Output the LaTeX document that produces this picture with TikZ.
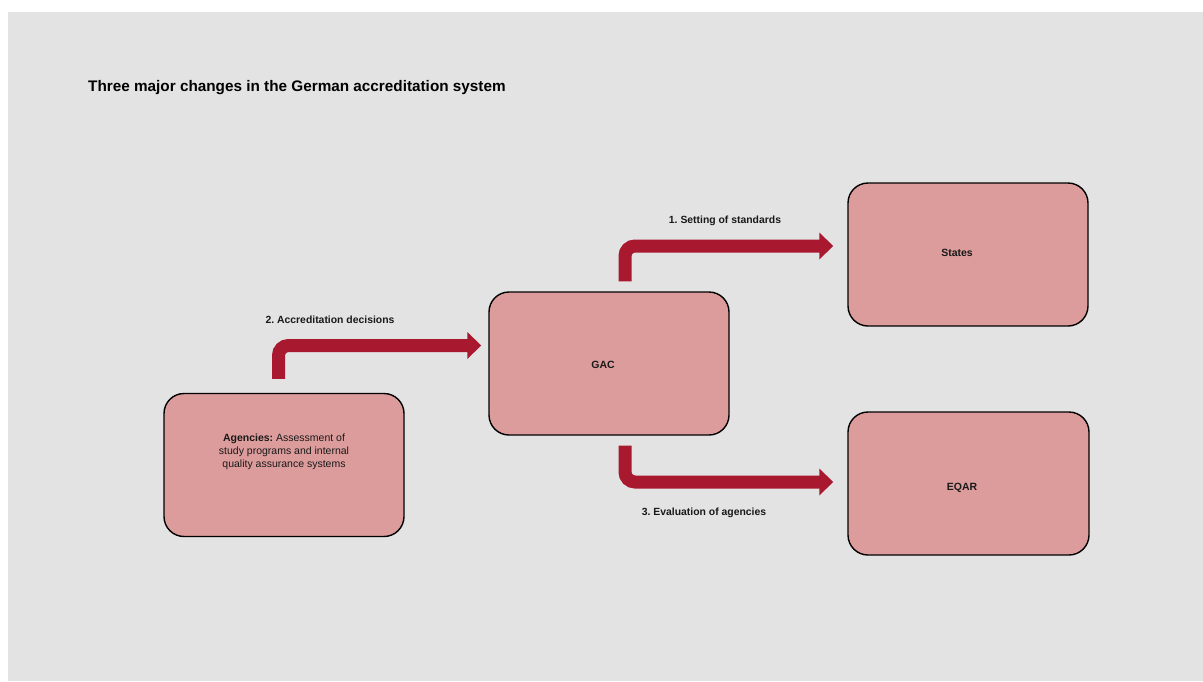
\documentclass[tikz,border=0pt]{standalone}
\usepackage{fontspec}
\setmainfont{Liberation Sans}
\usetikzlibrary{arrows.meta,calc}
\definecolor{bg}{HTML}{E3E3E3}
\definecolor{boxfill}{HTML}{DD9C9C}
\definecolor{arrowred}{HTML}{A8182E}
\frenchspacing
\begin{document}
\begin{tikzpicture}[x=1pt,y=-1pt,
  box/.style={draw=black, line width=1.4pt, fill=boxfill, rounded corners=20pt,
    minimum width=240pt, minimum height=143pt, inner sep=0pt},
  flow/.style={draw=arrowred, line width=13pt, rounded corners=10pt,
    -{Triangle[length=14pt,width=26pt]}},
  lbl/.style={font=\fontsize{10.4}{12}\selectfont\bfseries, text=black!90},
  boxlbl/.style={font=\fontsize{10.5}{13}\selectfont\bfseries, text=black!90},
  boxtext/.style={font=\fontsize{10.5}{13}\selectfont, align=center, text=black!90}]
\useasboundingbox (0,0) rectangle (1203,681);
\fill[bg] (8,12) rectangle (1203,681);

\node[anchor=base west, inner sep=0pt, font=\fontsize{15.3}{18}\selectfont\bfseries] (title) at (88,91)
  {Three major changes in the German accreditation system};

\node[box] (ag) at (284,465) {};
\node[box] (gac) at (609,363.5) {};
\node[box] (states) at (968,254.5) {};
\node[box, minimum width=241pt] (eqar) at (968.5,483.5) {};

\node[boxtext] (agtext) at ($(ag.center)+(0,-13)$)
  {\textbf{Agencies:} Assessment of\\study programs and internal\\quality assurance systems};
\node[boxlbl] (gactext) at ($(gac.center)+(-6,1.5)$) {GAC};
\node[boxlbl] (statestext) at ($(states.center)+(-11,-1.5)$) {States};
\node[boxlbl] (eqartext) at ($(eqar.center)+(-6.5,4.5)$) {EQAR};

\draw[flow, shorten <=14pt, shorten >=7pt] ([xshift=-5.5pt]ag.north) |- ([yshift=18pt]gac.west);
\draw[flow, shorten <=10pt, shorten >=14pt] ([xshift=16pt]gac.north) |- ([yshift=8.5pt]states.west);
\draw[flow, shorten <=10pt, shorten >=14pt] ([xshift=16pt]gac.south) |- ([yshift=1.5pt]eqar.west);

\node[lbl] (l1) at (725,221) {1. Setting of standards};
\node[lbl] (l2) at (330,319.5) {2. Accreditation decisions};
\node[lbl] (l3) at (704,513) {3. Evaluation of agencies};
\end{tikzpicture}
\end{document}
